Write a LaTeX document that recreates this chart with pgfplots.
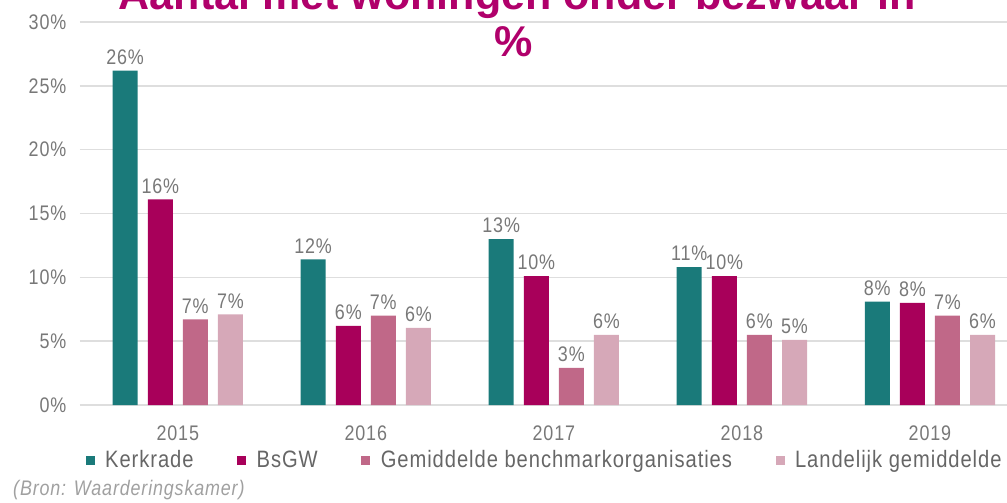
\documentclass[border=0pt]{standalone}
\usepackage{fontspec}
\setmainfont{Liberation Sans}[FakeStretch=0.85, LetterSpace=4]
\newfontfamily\titlefont{Liberation Sans}
\usepackage{pgfplots}
\pgfplotsset{compat=1.18}

\definecolor{kerk}{RGB}{26,122,122}
\definecolor{bsgw}{RGB}{168,0,90}
\definecolor{gemb}{RGB}{192,104,136}
\definecolor{land}{RGB}{214,168,184}
\definecolor{titlemag}{RGB}{176,0,107}
\definecolor{txtgray}{RGB}{120,120,120}
\definecolor{gridgray}{RGB}{222,222,222}

\begin{document}
\begin{tikzpicture}
\useasboundingbox (-16mm,-19.4mm) rectangle (185.4mm,81mm);
\clip (-16mm,-19.4mm) rectangle (185.4mm,81mm);
\begin{axis}[
  scale only axis, width=185.4mm, height=76.6mm,
  ybar, bar width=0.133,
  ymin=0, ymax=30, ytick={0,5,...,30},
  yticklabel={\pgfmathprintnumber{\tick}\%},
  xmin=-0.52, xmax=4.41, xtick={0,1,2,3,4},
  xticklabels={2015,2016,2017,2018,2019},
  /pgf/number format/assume math mode=true,
  ymajorgrids, grid style={gridgray, line width=0.8pt},
  axis line style={draw=none}, major tick length=0pt,
  tick label style={font=\fontsize{12}{14}\selectfont, text=txtgray},
  yticklabel style={xshift=-1.5mm},
  xticklabel style={yshift=-3mm},
  point meta=explicit symbolic,
  nodes near coords={\pgfplotspointmeta\%},
  every node near coord/.append style={font=\fontsize{12}{14}\selectfont, text=txtgray},
  legend columns=4,
  legend style={at={(0.0,-0.144)}, anchor=west, draw=none, fill=none,
    font=\fontsize{13.5}{15}\selectfont, text=txtgray!85!black,
    /tikz/every odd column/.append style={column sep=1.4mm},
    /tikz/every even column/.append style={column sep=8mm}},
  legend image code/.code={\fill[#1] (0mm,-0.9mm) rectangle (1.8mm,0.9mm);},
]
\addplot[fill=kerk, draw=none, bar shift=-0.28] coordinates
  {(0,26.2)[26] (1,11.4)[12] (2,13.0)[13] (3,10.8)[11] (4,8.1)[8]};
\addplot[fill=bsgw, draw=none, bar shift=-0.093] coordinates
  {(0,16.1)[16] (1,6.2)[6] (2,10.1)[10] (3,10.1)[10] (4,8.0)[8]};
\addplot[fill=gemb, draw=none, bar shift=0.093] coordinates
  {(0,6.7)[7] (1,7.0)[7] (2,2.9)[3] (3,5.5)[6] (4,7.0)[7]};
\addplot[fill=land, draw=none, bar shift=0.28] coordinates
  {(0,7.1)[7] (1,6.05)[6] (2,5.5)[6] (3,5.1)[5] (4,5.5)[6]};
\legend{Kerkrade, BsGW, Gemiddelde benchmarkorganisaties, Landelijk gemiddelde}
\end{axis}
\node[anchor=base, text=titlemag, font=\titlefont\bfseries\fontsize{24.5}{28}\selectfont]
  at (87.4mm,79mm) {Aantal met woningen onder bezwaar in};
\node[anchor=base, text=titlemag, font=\titlefont\bfseries\fontsize{24.5}{28}\selectfont]
  at (86.8mm,69.6mm) {\%};
\node[anchor=west, text=txtgray!70, font=\itshape\fontsize{12}{14}\selectfont]
  at (-14.6mm,-17mm) {(Bron: Waarderingskamer)};
\end{tikzpicture}
\end{document}
